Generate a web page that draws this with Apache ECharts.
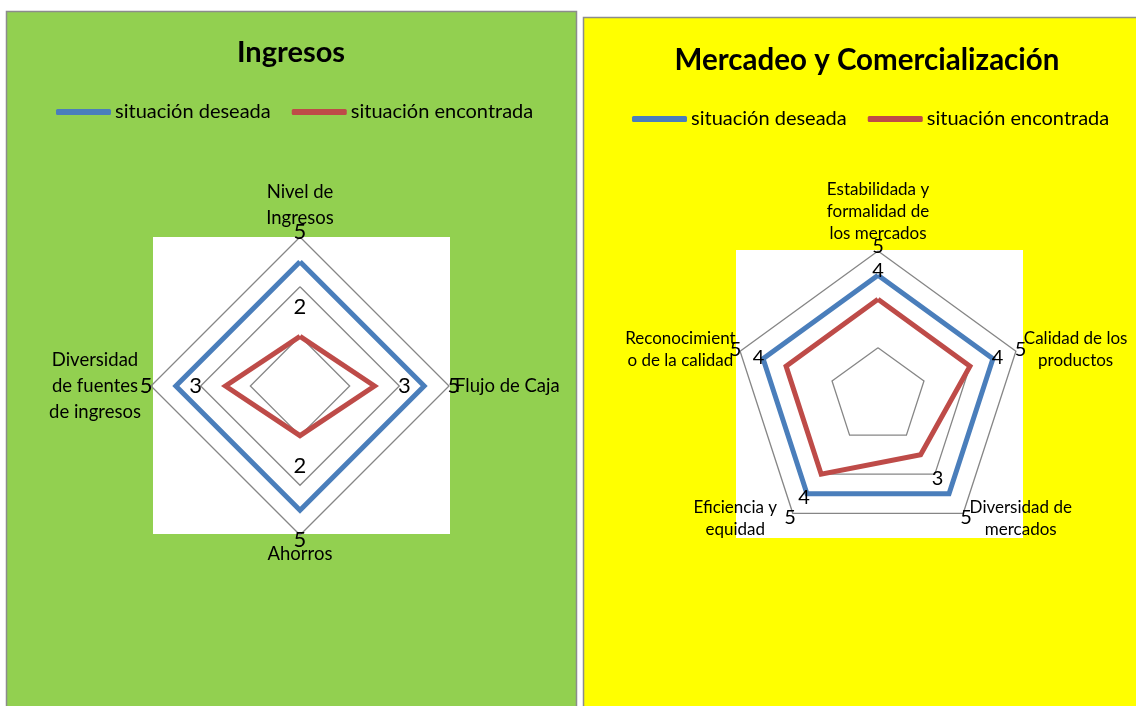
<!DOCTYPE html>
<html><head><meta charset="utf-8">
<script src="https://cdn.jsdelivr.net/npm/echarts@6/dist/echarts.min.js"></script>
<style>html,body{margin:0;padding:0;background:#fff}#c{width:1136px;height:706px}</style>
</head><body><div id="c"></div>
<script>
// ---- data (indicators listed clockwise from the top, as in the reference) ----
const seriesNames = ['situación deseada', 'situación encontrada'];
const ingresosIndicators = ['Nivel de\nIngresos', 'Flujo de Caja', 'Ahorros', 'Diversidad\nde fuentes\nde ingresos'];
const ingresosDeseada = [5, 5, 5, 5];
const ingresosEncontrada = [2, 3, 2, 3];
const mercadeoIndicators = ['Estabilidada y\nformalidad de\nlos mercados', 'Calidad de los\nproductos', 'Diversidad de\nmercados', 'Eficiencia y\nequidad', 'Reconocimient\no de la calidad'];
const mercadeoDeseada = [5, 5, 5, 5, 5];
const mercadeoEncontrada = [4, 4, 3, 4, 4];
const axisMin = 0, axisMax = 6, axisSplits = 3;

// ---- styling ----
const FONT = 'Lato';
const BLUE = '#4A7EBB', RED = '#BE4B48', GRID = '#868686';

// ECharts lays radar indicators counter-clockwise; reorder to get clockwise layout.
function cw(arr) { return [arr[0]].concat(arr.slice(1).reverse()); }

function nameFormatter(name) {
  const lines = name.split('\n');
  if (lines.length === 1) return name;
  return lines.map(l => '{c|' + l + '}').join('\n');
}

function makeRadar(indicators, center, radius, fontSize, lineHeight, boxW, gap) {
  return {
    indicator: cw(indicators).map(n => ({ name: n, min: axisMin, max: axisMax })),
    center: center, radius: radius, startAngle: 90, shape: 'polygon',
    splitNumber: axisSplits, nameGap: gap,
    axisName: {
      color: '#000', fontFamily: FONT, fontSize: fontSize, lineHeight: lineHeight,
      formatter: nameFormatter,
      rich: { c: { width: boxW, align: 'center', color: '#000', fontFamily: FONT, fontSize: fontSize, lineHeight: lineHeight } }
    },
    splitLine: { lineStyle: { color: GRID, width: 1.3 } },
    splitArea: { show: false },
    axisLine: { show: false },
    axisTick: { show: false },
    axisLabel: { show: false }
  };
}

function lineSeries(name, color, values, radarIndex) {
  return {
    type: 'radar', name: name, radarIndex: radarIndex, symbol: 'none', silent: true,
    color: color,
    lineStyle: { color: color, width: 5, join: 'miter' },
    itemStyle: { color: color },
    data: [{ value: cw(values), name: name }],
    z: 3
  };
}

// transparent carrier series that places the value labels slightly outside each point
function labelSeries(radarIndex, valueSets, pad, fontSize) {
  return {
    type: 'radar', name: '_labels' + radarIndex, radarIndex: radarIndex, silent: true,
    symbol: 'circle', symbolSize: 1,
    itemStyle: { color: 'rgba(0,0,0,0)' },
    lineStyle: { width: 0, opacity: 0 },
    label: {
      show: true, position: 'inside', color: '#000', fontFamily: FONT, fontSize: fontSize,
      formatter: p => String(Math.round((+p.value - pad) * 10) / 10)
    },
    data: valueSets.map(v => ({ value: cw(v).map(x => x + pad) })),
    z: 4
  };
}

const chart = echarts.init(document.getElementById('c'), null, { renderer: 'canvas' });

const option = {
  animation: false,
  backgroundColor: '#fff',
  graphic: [
    { type: 'rect', z: -100, shape: { x: 6.5, y: 11.5, width: 570, height: 710 }, style: { fill: '#92D050', stroke: '#8C8C8C', lineWidth: 1.5 } },
    { type: 'rect', z: -100, shape: { x: 583.5, y: 17.5, width: 570, height: 710 }, style: { fill: '#FFFF00', stroke: '#8C8C8C', lineWidth: 1.5 } },
    { type: 'rect', z: -99, shape: { x: 153, y: 237, width: 297, height: 297 }, style: { fill: '#fff' } },
    { type: 'rect', z: -99, shape: { x: 736, y: 250, width: 287, height: 288 }, style: { fill: '#fff' } },
    { type: 'text', z: 100, x: 291, y: 53, style: { text: 'Ingresos', fill: '#000', font: 'bold 29px Lato', textAlign: 'center', textVerticalAlign: 'middle' } },
    { type: 'text', z: 100, x: 867, y: 60, style: { text: 'Mercadeo y Comercialización', fill: '#000', font: 'bold 29.5px Lato', textAlign: 'center', textVerticalAlign: 'middle' } }
  ],
  legend: [
    { data: seriesNames, left: 51, top: 97, icon: 'roundRect', itemWidth: 55, itemHeight: 6, itemGap: 21,
      textStyle: { fontFamily: FONT, fontSize: 20, color: '#000', padding: [0, 0, 0, -1] } },
    { data: seriesNames, left: 627, top: 104, icon: 'roundRect', itemWidth: 55, itemHeight: 6, itemGap: 21,
      textStyle: { fontFamily: FONT, fontSize: 20, color: '#000', padding: [0, 0, 0, -1] } }
  ],
  radar: [
    makeRadar(ingresosIndicators, [300, 386], 149, 18.5, 26, 100, 6),
    makeRadar(mercadeoIndicators, [878, 396], 145, 17, 22, 108, 6)
  ],
  series: [
    lineSeries(seriesNames[0], BLUE, ingresosDeseada, 0),
    lineSeries(seriesNames[1], RED, ingresosEncontrada, 0),
    lineSeries(seriesNames[0], BLUE, mercadeoDeseada, 1),
    lineSeries(seriesNames[1], RED, mercadeoEncontrada, 1),
    labelSeries(0, [ingresosDeseada, ingresosEncontrada], 1.2, 22),
    labelSeries(1, [mercadeoDeseada, mercadeoEncontrada], 1.2, 20)
  ]
};
chart.setOption(option);
</script>
</body></html>
